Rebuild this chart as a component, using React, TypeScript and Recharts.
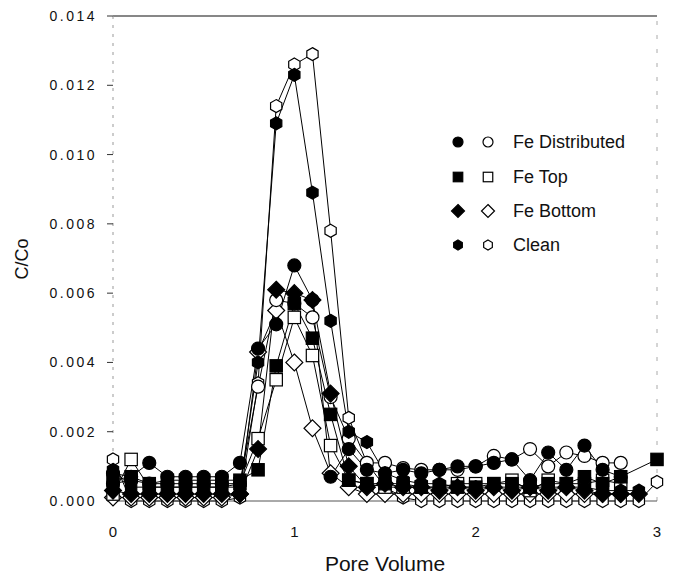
import React from 'react';
import { LineChart, Line, XAxis, YAxis, ReferenceLine, Label } from 'recharts';

const poreVolume = [0, 0.1, 0.2, 0.3, 0.4, 0.5, 0.6, 0.7, 0.8, 0.9, 1.0, 1.1, 1.2, 1.3, 1.4, 1.5, 1.6, 1.7, 1.8, 1.9, 2.0, 2.1, 2.2, 2.3, 2.4, 2.5, 2.6, 2.7, 2.8, 2.9, 3.0];

const feDistributedFilled = [0.0008, 0.0007, 0.0011, 0.0007, 0.0007, 0.0007, 0.0007, 0.0011, 0.0044, 0.0051, 0.0068, 0.0058, 0.0007, 0.0015, 0.0009, 0.0008, 0.0009, 0.0008, 0.0009, 0.0010, 0.0010, 0.0011, 0.0012, 0.0006, 0.0014, 0.0009, 0.0016, 0.0009, 0.0007, null, null];
const feDistributedOpen = [0.0005, 0.0006, 0.0005, 0.0005, 0.0005, 0.0005, 0.0005, 0.0005, 0.0033, 0.0058, 0.0057, 0.0053, 0.0030, 0.0018, 0.0011, 0.0011, 0.00095, 0.0009, 0.0009, 0.0009, 0.0010, 0.0013, 0.0012, 0.0015, 0.0010, 0.0014, 0.0013, 0.0011, 0.0011, null, null];
const feTopFilled = [0.0006, 0.0007, 0.0005, 0.0006, 0.0006, 0.0006, 0.0006, 0.0006, 0.0009, 0.0039, 0.0057, 0.0047, 0.0025, 0.0006, 0.0005, 0.0005, 0.0005, 0.0004, 0.0004, 0.0004, 0.0004, 0.0005, 0.0005, 0.0004, 0.0005, 0.0005, 0.0007, 0.0005, 0.0007, null, 0.0012];
const feTopOpen = [0.0002, 0.0012, 0.0004, 0.0004, 0.0004, 0.0004, 0.0004, 0.0005, 0.0018, 0.0035, 0.0053, 0.0042, 0.0016, 0.0006, 0.0005, 0.0004, 0.0004, 0.0004, 0.0004, 0.0005, 0.0005, 0.0005, 0.0006, 0.0003, 0.0006, 0.0005, 0.0005, 0.0006, 0.0005, null, null];
const feBottomFilled = [0.0003, 0.0002, 0.0002, 0.0002, 0.0002, 0.0002, 0.0002, 0.0002, 0.0015, 0.0061, 0.0060, 0.0058, 0.0031, 0.0010, 0.0004, 0.0005, 0.0004, 0.0004, 0.0003, 0.0004, 0.0003, 0.0004, 0.0003, 0.0004, 0.0003, 0.0004, 0.0003, 0.0002, 0.0002, 0.0002, null];
const feBottomOpen = [0.0001, 0.0001, 0.0001, 0.0001, 0.0001, 0.0001, 0.0001, 0.0002, 0.0043, 0.0055, 0.0040, 0.0021, 0.0008, 0.0004, 0.0002, 0.0002, 0.0002, 0.0002, 0.0002, 0.0002, 0.0002, 0.0002, 0.0002, 0.0002, 0.0002, 0.0002, 0.0002, 0.0002, 0.0002, null, null];
const cleanFilled = [0.0009, 0.0004, 0.0004, 0.0004, 0.0004, 0.0004, 0.0004, 0.0004, 0.0040, 0.0109, 0.0123, 0.0089, 0.0052, 0.0020, 0.0017, 0.0008, 0.0006, 0.0005, 0.0005, 0.0004, 0.0004, 0.0004, 0.0004, 0.0004, 0.0004, 0.0004, 0.0004, 0.0003, 0.0003, 0.0003, null];
const cleanOpen = [0.0012, 0.0000, 0.0000, 0.0000, 0.0000, 0.0000, 0.0000, 0.0001, 0.0034, 0.0114, 0.0126, 0.0129, 0.0078, 0.0024, 0.0011, 0.0004, 0.0001, 0.0000, 0.0000, 0.0000, 0.0000, 0.0000, 0.0000, 0.0000, 0.0000, 0.0000, 0.0000, 0.0000, 0.0000, 0.0000, 0.00055];

const xTicks = [0, 1, 2, 3];
const yTicks = [0, 0.002, 0.004, 0.006, 0.008, 0.010, 0.012, 0.014];
const legendNames = ['Fe Distributed', 'Fe Top', 'Fe Bottom', 'Clean'];

type Shape = 'circle' | 'square' | 'diamond' | 'hexagon';

const seriesDefs: { key: string; values: (number | null)[]; shape: Shape; filled: boolean }[] = [
  { key: 'cleanOpen', values: cleanOpen, shape: 'hexagon', filled: false },
  { key: 'feBottomOpen', values: feBottomOpen, shape: 'diamond', filled: false },
  { key: 'feTopOpen', values: feTopOpen, shape: 'square', filled: false },
  { key: 'feDistributedOpen', values: feDistributedOpen, shape: 'circle', filled: false },
  { key: 'cleanFilled', values: cleanFilled, shape: 'hexagon', filled: true },
  { key: 'feBottomFilled', values: feBottomFilled, shape: 'diamond', filled: true },
  { key: 'feTopFilled', values: feTopFilled, shape: 'square', filled: true },
  { key: 'feDistributedFilled', values: feDistributedFilled, shape: 'circle', filled: true },
];

const data = poreVolume.map((x, i) => {
  const row: Record<string, number | null> = { pv: x };
  seriesDefs.forEach((s) => {
    row[s.key] = s.values[i];
  });
  return row;
});

function Marker({ cx, cy, shape, filled, r = 6.5 }: { cx: number; cy: number; shape: Shape; filled: boolean; r?: number }) {
  const common = { fill: filled ? '#000' : '#fff', stroke: '#000', strokeWidth: 1.2 };
  if (shape === 'circle') return <circle cx={cx} cy={cy} r={r} {...common} />;
  if (shape === 'square') return <rect x={cx - r * 0.95} y={cy - r * 0.95} width={r * 1.9} height={r * 1.9} {...common} />;
  if (shape === 'diamond') {
    const d = r * 1.3;
    return <polygon points={`${cx},${cy - d} ${cx + d},${cy} ${cx},${cy + d} ${cx - d},${cy}`} {...common} />;
  }
  const pts: string[] = [];
  for (let k = 0; k < 6; k++) {
    const a = (Math.PI / 3) * k - Math.PI / 2;
    pts.push(`${cx + r * Math.cos(a)},${cy + r * Math.sin(a)}`);
  }
  return <polygon points={pts.join(' ')} {...common} />;
}

const legendShapes: Shape[] = ['circle', 'square', 'diamond', 'hexagon'];
const legendRows = [142, 177, 211, 245];

export default function App() {
  return (
    <div style={{ position: 'absolute', left: 0, top: 0, width: 673, height: 580, background: '#fff' }}>
      <LineChart width={673} height={580} data={data} margin={{ top: 16, right: 16, bottom: 0, left: 0 }}>
        <XAxis
          dataKey="pv"
          type="number"
          domain={[0, 3]}
          ticks={xTicks}
          tickFormatter={(v: number) => String(v)}
          height={79}
          tickLine={false}
          tickSize={6}
          tickMargin={19}
          axisLine={{ stroke: '#555', strokeWidth: 1 }}
          tick={{ fill: '#111', fontSize: 15, fontFamily: 'Liberation Sans, Arial, sans-serif' }}
        >
          <Label value="Pore Volume" position="insideBottom" offset={9} style={{ fill: '#111', fontSize: 21, fontFamily: 'Liberation Sans, Arial, sans-serif' }} />
        </XAxis>
        <YAxis
          type="number"
          domain={[0, 0.014]}
          ticks={yTicks}
          tickFormatter={(v: number) => v.toFixed(3)}
          width={113}
          tickSize={6}
          tickMargin={10}
          tickLine={{ stroke: '#333' }}
          axisLine={{ stroke: '#999', strokeWidth: 1, strokeDasharray: '3 6' }}
          tick={{ fill: '#111', fontSize: 14, fontFamily: 'Liberation Sans, Arial, sans-serif', letterSpacing: 2.5 }}
        >
          <Label
            content={() => (
              <text x={22} y={259} transform="rotate(-90 22 259)" textAnchor="middle" dominantBaseline="central" fill="#111" fontSize={18} fontFamily="Liberation Sans, Arial, sans-serif">
                C/Co
              </text>
            )}
          />
        </YAxis>
        <ReferenceLine y={0.014} stroke="#111" strokeWidth={1.2} />
        <ReferenceLine x={3} stroke="#aaa" strokeWidth={1} strokeDasharray="4 10" />
        {seriesDefs.map((s) => (
          <Line
            key={s.key}
            dataKey={s.key}
            type="linear"
            stroke="#000"
            strokeWidth={1}
            connectNulls
            isAnimationActive={false}
            dot={(p: any) =>
              p.value == null || p.cy == null ? (
                <g key={`${s.key}-${p.index}`} />
              ) : (
                <Marker key={`${s.key}-${p.index}`} cx={p.cx} cy={p.cy} shape={s.shape} filled={s.filled} />
              )
            }
            activeDot={false}
          />
        ))}
      </LineChart>
      <div style={{ position: 'absolute', left: 0, top: 0, width: 673, height: 580, pointerEvents: 'none' }}>
        <svg width={673} height={580} style={{ position: 'absolute', left: 0, top: 0 }}>
          {legendNames.map((name, i) => (
            <g key={name}>
              <Marker cx={458} cy={legendRows[i]} shape={legendShapes[i]} filled r={5} />
              <Marker cx={488} cy={legendRows[i]} shape={legendShapes[i]} filled={false} r={5} />
              <text x={513} y={legendRows[i]} dominantBaseline="central" fontSize={18} fill="#111" fontFamily="Liberation Sans, Arial, sans-serif">
                {name}
              </text>
            </g>
          ))}
        </svg>
      </div>
    </div>
  );
}
